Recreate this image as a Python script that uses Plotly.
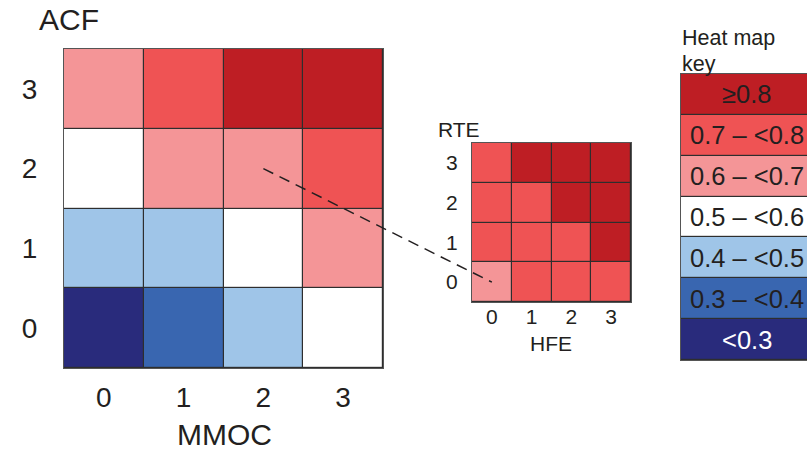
import plotly.graph_objects as go

# ---------------- data ----------------
ticks = [0, 1, 2, 3]
# main heat map: ACF (rows, bottom->top) vs MMOC (columns); values = lower bound of key class (0.2 means <0.3)
acf_mmoc = [
    [0.2, 0.3, 0.4, 0.5],   # ACF 0
    [0.4, 0.4, 0.5, 0.6],   # ACF 1
    [0.5, 0.6, 0.6, 0.7],   # ACF 2
    [0.6, 0.7, 0.8, 0.8],   # ACF 3
]
# inset heat map: RTE (rows) vs HFE (columns)
rte_hfe = [
    [0.6, 0.7, 0.7, 0.7],   # RTE 0
    [0.7, 0.7, 0.7, 0.8],   # RTE 1
    [0.7, 0.7, 0.8, 0.8],   # RTE 2
    [0.7, 0.8, 0.8, 0.8],   # RTE 3
]
key_values = [0.2, 0.3, 0.4, 0.5, 0.6, 0.7, 0.8]
key_labels = ["<0.3", "0.3 – <0.4", "0.4 – <0.5", "0.5 – <0.6", "0.6 – <0.7", "0.7 – <0.8", "≥0.8"]
key_colors = ["#292B7C", "#3966B0", "#9FC5E8", "#FFFFFF", "#F49597", "#EF5354", "#BE1E24"]
key_text_colors = ["#FFFFFF", "#231F20", "#231F20", "#231F20", "#231F20", "#231F20", "#231F20"]

# ---------------- style ----------------
W, H = 807, 451
FONT = "Liberation Sans, Arial, sans-serif"
TXT = "#231F20"
LINE = "#2e2e2e"

n = len(key_colors)
colorscale = []
for i, c in enumerate(key_colors):
    colorscale.append([i / n, c])
    colorscale.append([(i + 1) / n, c])
ZMIN, ZMAX = 0.15, 0.85

def px_dom_x(a, b):
    return [a / W, b / W]

def px_dom_y(top, bottom):
    return [1 - bottom / H, 1 - top / H]

main_x = px_dom_x(64, 383)
main_y = px_dom_y(49, 368)
ins_x = px_dom_x(472, 631)
ins_y = px_dom_y(143, 302)
key_x = [681 / W, 1.0]
key_y = px_dom_y(74, 360)
RNG = [-0.5, 3.5]
KEY_XR = [-0.5, 0.455]

fig = go.Figure()
common = dict(colorscale=colorscale, zmin=ZMIN, zmax=ZMAX, showscale=False,
              xgap=1.2, ygap=1.2, hoverinfo="skip")
fig.add_trace(go.Heatmap(z=acf_mmoc, x=ticks, y=ticks, xaxis="x", yaxis="y", **common))
fig.add_trace(go.Heatmap(z=rte_hfe, x=ticks, y=ticks, xaxis="x2", yaxis="y2", **common))
fig.add_trace(go.Heatmap(z=[[v] for v in key_values], x=[0], y=list(range(n)),
                         xaxis="x3", yaxis="y3", **common))

def ax(size=None, **kw):
    d = dict(showgrid=False, zeroline=False, showline=True, linecolor="#555555",
             linewidth=1.2, ticks="", fixedrange=True)
    if size:
        d["tickfont"] = dict(family=FONT, color=TXT, size=size)
    d.update(kw)
    return d

fig.update_layout(
    width=W, height=H, margin=dict(l=0, r=0, t=0, b=0),
    paper_bgcolor="white", plot_bgcolor=LINE,
    font=dict(family=FONT, color=TXT),
    xaxis=ax(28, domain=main_x, range=RNG, tickvals=ticks, mirror=True, anchor="y",
             ticklabelstandoff=4),
    yaxis=ax(28, domain=main_y, range=RNG, tickvals=ticks, mirror=True, anchor="x",
             ticklabelstandoff=20),
    xaxis2=ax(21, domain=ins_x, range=RNG, tickvals=ticks, mirror=True, anchor="y2",
              ticklabelstandoff=-4),
    yaxis2=ax(21, domain=ins_y, range=RNG, tickvals=ticks, mirror=True, anchor="x2",
              ticklabelstandoff=9),
    xaxis3=ax(domain=key_x, range=KEY_XR, showticklabels=False, mirror=True, anchor="y3"),
    yaxis3=ax(domain=key_y, range=[-0.5, n - 0.5], showticklabels=False, mirror=False,
              anchor="x3"),
)

ann = []
def label(text, x, y, size, xanchor="center"):
    ann.append(dict(text=text, x=x / W, y=1 - y / H, xref="paper", yref="paper",
                    xanchor=xanchor, yanchor="middle", showarrow=False,
                    font=dict(family=FONT, size=size, color=TXT)))

label("ACF", 69, 20, 30)
label("MMOC", 224, 434, 30)
label("RTE", 459, 129, 21)
label("HFE", 551, 343, 21)
label("Heat map", 680, 38, 21.5, xanchor="left")
label("key", 680, 64, 21.5, xanchor="left")
for i, (t, c) in enumerate(zip(key_labels, key_text_colors)):
    ann.append(dict(text=t, x=0, y=i, xref="x3", yref="y3", showarrow=False,
                    xanchor="center", yanchor="middle",
                    font=dict(family=FONT, size=25.5, color=c)))
fig.update_layout(annotations=ann)

# dashed connector: centre of main cell (MMOC 2, ACF 2) to inset cell (HFE 0, RTE 0)
def to_paper(xv, yv, xd, yd, xr, yr):
    px = xd[0] + (xv - xr[0]) / (xr[1] - xr[0]) * (xd[1] - xd[0])
    py = yd[0] + (yv - yr[0]) / (yr[1] - yr[0]) * (yd[1] - yd[0])
    return px, py

x0, y0 = to_paper(2, 2, main_x, main_y, RNG, RNG)
x1, y1 = to_paper(0, 0, ins_x, ins_y, RNG, RNG)
fig.add_shape(type="line", xref="paper", yref="paper", x0=x0, y0=y0, x1=x1, y1=y1,
              line=dict(color="#231F20", width=1.5, dash="11px,7px"), layer="above")

fig.write_html("out.html", config={"displayModeBar": False},
               post_script="document.body.style.margin='0';document.body.style.overflow='hidden';")
